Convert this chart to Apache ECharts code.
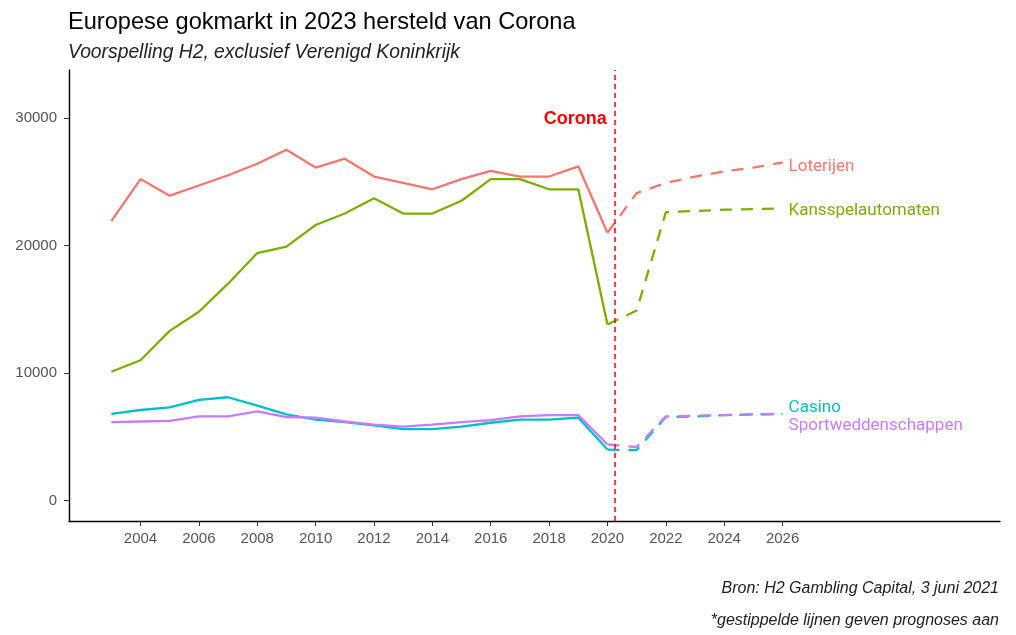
<!DOCTYPE html>
<html>
<head>
<meta charset="utf-8">
<script src="https://cdn.jsdelivr.net/npm/echarts@6/dist/echarts.min.js"></script>
<style>
  html, body { margin: 0; padding: 0; background: #fff; }
  #chart { width: 1016px; height: 635px; }
</style>
</head>
<body>
<div id="chart"></div>
<script>
  // jaren
  var histYears = [2003, 2004, 2005, 2006, 2007, 2008, 2009, 2010, 2011, 2012, 2013, 2014, 2015, 2016, 2017, 2018, 2019, 2020];
  var forecastYears = [2020, 2021, 2022, 2023, 2024, 2025, 2026];

  // historie (miljoen euro)
  var casinoHist = [6800, 7100, 7300, 7900, 8100, 7450, 6750, 6350, 6150, 5900, 5600, 5600, 5800, 6100, 6350, 6350, 6500, 4000];
  var kansspelHist = [10100, 11000, 13300, 14800, 17000, 19400, 19900, 21600, 22500, 23700, 22500, 22500, 23500, 25200, 25200, 24400, 24400, 13800];
  var loterijHist = [21900, 25200, 23900, 24700, 25500, 26400, 27500, 26100, 26800, 25400, 24900, 24400, 25200, 25850, 25400, 25400, 26200, 21000];
  var sportHist = [6150, 6200, 6250, 6600, 6600, 7000, 6550, 6500, 6200, 5950, 5800, 5950, 6150, 6300, 6600, 6700, 6700, 4400];

  // prognoses
  var casinoForecast = [4000, 3950, 6550, 6600, 6700, 6750, 6800];
  var kansspelForecast = [13800, 14900, 22600, 22700, 22800, 22850, 22900];
  var loterijForecast = [21000, 24100, 24900, 25400, 25800, 26100, 26500];
  var sportForecast = [4400, 4200, 6600, 6650, 6700, 6750, 6800];

  var xTicks = [2004, 2006, 2008, 2010, 2012, 2014, 2016, 2018, 2020, 2022, 2024, 2026];
  var yTicks = [0, 10000, 20000, 30000];
  var coronaYear = 2020.25;
  var coronaLabelY = 29900;

  function pairs(xs, ys) {
    return xs.map(function (x, i) { return [x, ys[i]]; });
  }

  var myChart = echarts.init(document.getElementById('chart'), null, { renderer: 'canvas' });

  function histSeries(name, color, values) {
    return {
      name: name,
      type: 'line',
      data: pairs(histYears, values),
      symbol: 'none',
      lineStyle: { color: color, width: 2.3 },
      itemStyle: { color: color },
      silent: true
    };
  }

  function forecastSeries(name, color, values, dy) {
    return {
      name: name + ' prognose',
      type: 'line',
      data: pairs(forecastYears, values),
      symbol: 'none',
      lineStyle: { color: color, width: 2.3, type: [12, 9] },
      itemStyle: { color: color },
      silent: true,
      endLabel: {
        show: true,
        formatter: name,
        color: color,
        fontFamily: 'Roboto',
        fontSize: 17,
        distance: 6,
        offset: [0, dy]
      }
    };
  }

  var loterij = histSeries('Loterijen', '#F8766D', loterijHist);
  loterij.markLine = {
    silent: true,
    symbol: 'none',
    label: { show: false },
    lineStyle: { color: '#FF0000', type: [5, 4], width: 1.5 },
    data: [{ xAxis: coronaYear }]
  };
  loterij.markPoint = {
    silent: true,
    symbol: 'circle',
    symbolSize: 0,
    label: {
      show: true,
      position: 'left',
      distance: 8,
      formatter: 'Corona',
      color: '#FF0000',
      fontWeight: 'bold',
      fontFamily: 'Liberation Sans',
      fontSize: 18
    },
    data: [{ coord: [coronaYear, coronaLabelY] }]
  };

  var option = {
    animation: false,
    backgroundColor: '#fff',
    title: [
      {
        text: 'Europese gokmarkt in 2023 hersteld van Corona',
        left: 68, top: 9, padding: 0,
        textStyle: { fontFamily: 'Liberation Sans', fontSize: 23.6, fontWeight: 'normal', color: '#000', lineHeight: 26 }
      },
      {
        text: 'Voorspelling H2, exclusief Verenigd Koninkrijk',
        left: 68, top: 42, padding: 0,
        textStyle: { fontFamily: 'Liberation Sans', fontSize: 19.3, fontStyle: 'italic', fontWeight: 'normal', color: '#222', lineHeight: 22 }
      },
      {
        text: 'Bron: H2 Gambling Capital, 3 juni 2021',
        right: 17, top: 580, padding: 0,
        textStyle: { fontFamily: 'Liberation Sans', fontSize: 16, fontStyle: 'italic', fontWeight: 'normal', color: '#222', lineHeight: 18 }
      },
      {
        text: '*gestippelde lijnen geven prognoses aan',
        right: 17, top: 612, padding: 0,
        textStyle: { fontFamily: 'Liberation Sans', fontSize: 16, fontStyle: 'italic', fontWeight: 'normal', color: '#222', lineHeight: 18 }
      }
    ],
    grid: { left: 69, right: 16, top: 70, bottom: 114, containLabel: false },
    xAxis: {
      type: 'value',
      min: 2001.55,
      max: 2033.45,
      splitLine: { show: false },
      axisLine: { show: true, onZero: false, lineStyle: { color: '#000', width: 1.4 } },
      axisTick: { show: true, length: 5, customValues: xTicks, lineStyle: { color: '#333' } },
      axisLabel: {
        customValues: xTicks,
        formatter: function (v) { return String(v); },
        color: '#555', fontFamily: 'Liberation Sans', fontSize: 15, margin: 10
      }
    },
    yAxis: {
      type: 'value',
      min: -1600,
      max: 33750,
      splitLine: { show: false },
      axisLine: { show: true, onZero: false, lineStyle: { color: '#000', width: 1.4 } },
      axisTick: { show: true, length: 5, customValues: yTicks, lineStyle: { color: '#333' } },
      axisLabel: {
        customValues: yTicks,
        formatter: function (v) { return String(v); },
        color: '#555', fontFamily: 'Liberation Sans', fontSize: 15, margin: 12
      }
    },
    series: [
      histSeries('Casino', '#00BFC4', casinoHist),
      histSeries('Kansspelautomaten', '#7CAE00', kansspelHist),
      loterij,
      histSeries('Sportweddenschappen', '#C77CFF', sportHist),
      forecastSeries('Casino', '#00BFC4', casinoForecast, -6),
      forecastSeries('Kansspelautomaten', '#7CAE00', kansspelForecast, 2),
      forecastSeries('Loterijen', '#F8766D', loterijForecast, 4),
      forecastSeries('Sportweddenschappen', '#C77CFF', sportForecast, 12)
    ]
  };

  myChart.setOption(option);
</script>
</body>
</html>
